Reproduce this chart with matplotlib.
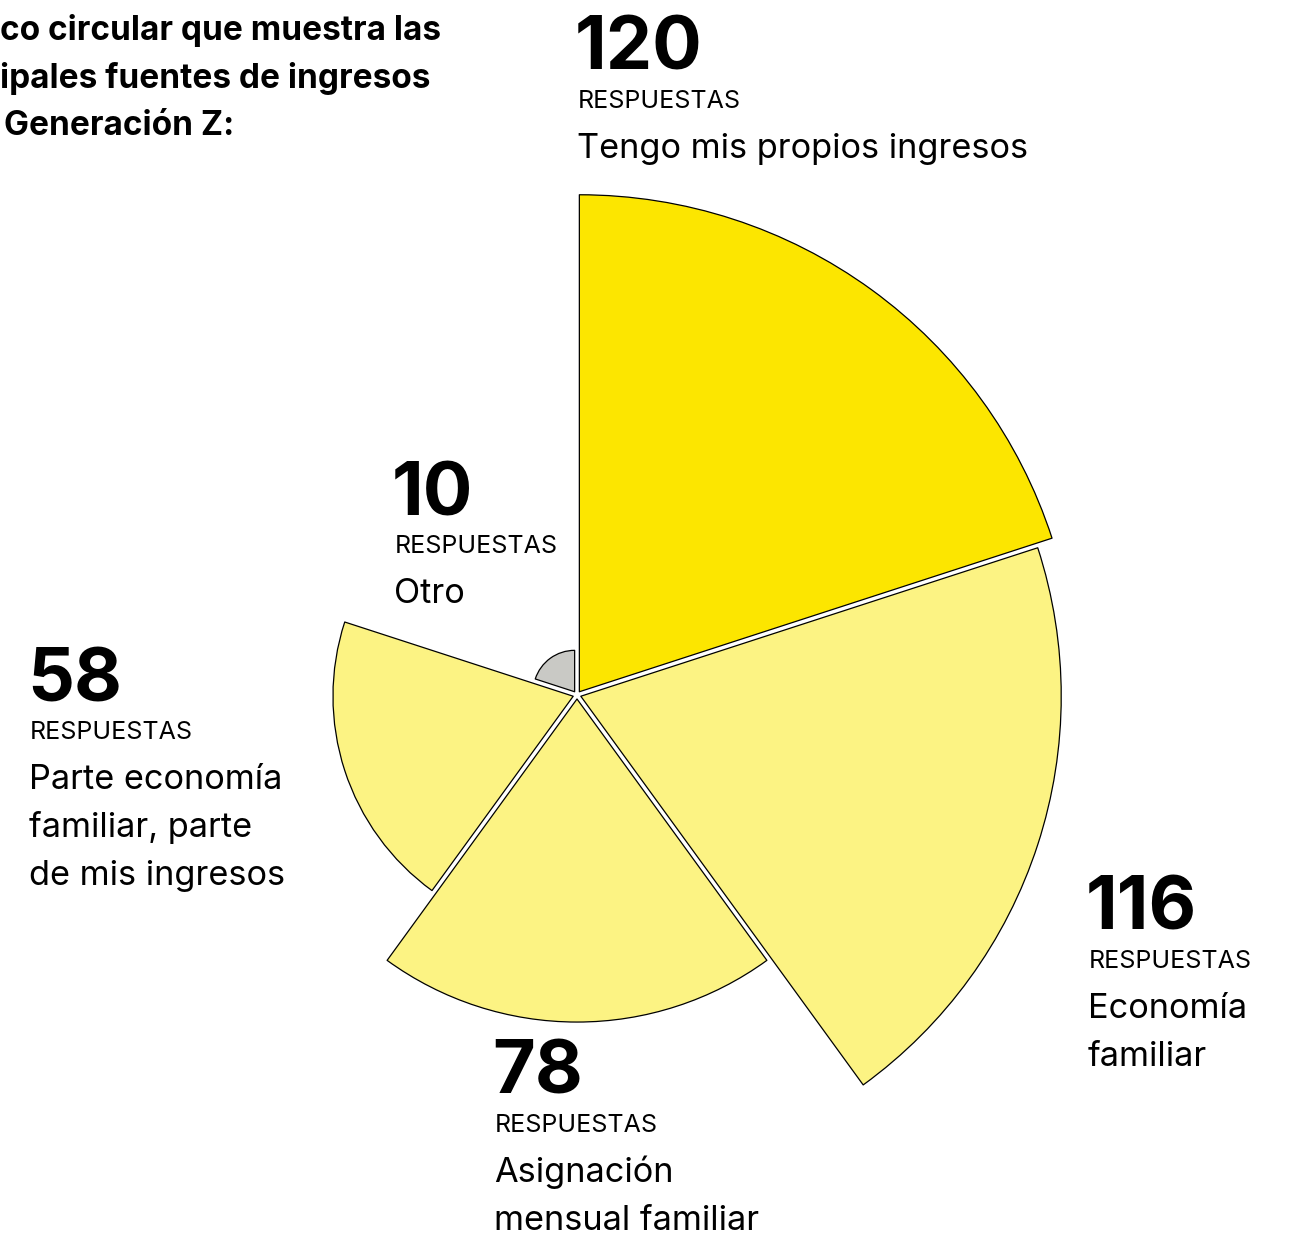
import matplotlib
matplotlib.use("Agg")
import matplotlib.pyplot as plt
from matplotlib.patches import Wedge
import numpy as np

plt.rcParams['font.family'] = ['Inter', 'DejaVu Sans']

# ---- data ----
values = [120, 116, 78, 58, 10]
labels = ["Tengo mis propios ingresos",
          "Economía\nfamiliar",
          "Asignación\nmensual familiar",
          "Parte economía\nfamiliar, parte\nde mis ingresos",
          "Otro"]
unit_label = "RESPUESTAS"
colors = ["#FCE600", "#FCF383", "#FCF383", "#FCF383", "#C9C9C5"]
title_lines = ["co circular que muestra las",
               "ipales fuentes de ingresos",
               "Generación Z:"]

# ---- layout ----
W, H = 1291, 1236
cx, cy = 577, 695            # center of the rose, pixels
k = 497 / 120                # pixels per response
explode_px = 4

fig = plt.figure(figsize=(W / 100, H / 100), dpi=100)
ax = fig.add_axes([0, 0, 1, 1])
ax.set_xlim(-cx / k, (W - cx) / k)
ax.set_ylim(-(H - cy) / k, cy / k)
ax.axis('off')

n = len(values)
step = 360 / n
d = explode_px / k
for i, (v, c) in enumerate(zip(values, colors)):
    t2 = 90 - i * step
    t1 = t2 - step
    mid = np.deg2rad((t1 + t2) / 2)
    center = (d * np.cos(mid), d * np.sin(mid))
    w = Wedge(center, v, t1, t2, facecolor=c, edgecolor='black',
              linewidth=0.9, joinstyle='round')
    ax.add_patch(w)

# ---- text ----
def px(x, y):
    return x / W, 1 - y / H

# label anchor positions (left x, number baseline y) in pixels
anchors = [(575, 70), (1086, 930), (492, 1094), (27, 701), (392, 515)]
for v, lab, (x, y) in zip(values, labels, anchors):
    fig.text(*px(x, y), str(v), fontsize=53, fontweight='bold',
             va='baseline', ha='left', color='black')
    fig.text(*px(x + 3, y + 38), unit_label, fontsize=18,
             va='baseline', ha='left', color='black')
    for j, line in enumerate(lab.split("\n")):
        fig.text(*px(x + 2, y + 88 + j * 48), line, fontsize=24.7,
                 va='baseline', ha='left', color='black')

title_x = [0, 0, 4]
title_y = [40, 88, 135]
for t, x, y in zip(title_lines, title_x, title_y):
    fig.text(*px(x, y), t, fontsize=24, fontweight='bold',
             va='baseline', ha='left', color='black')

fig.savefig("out.png", dpi=100)
